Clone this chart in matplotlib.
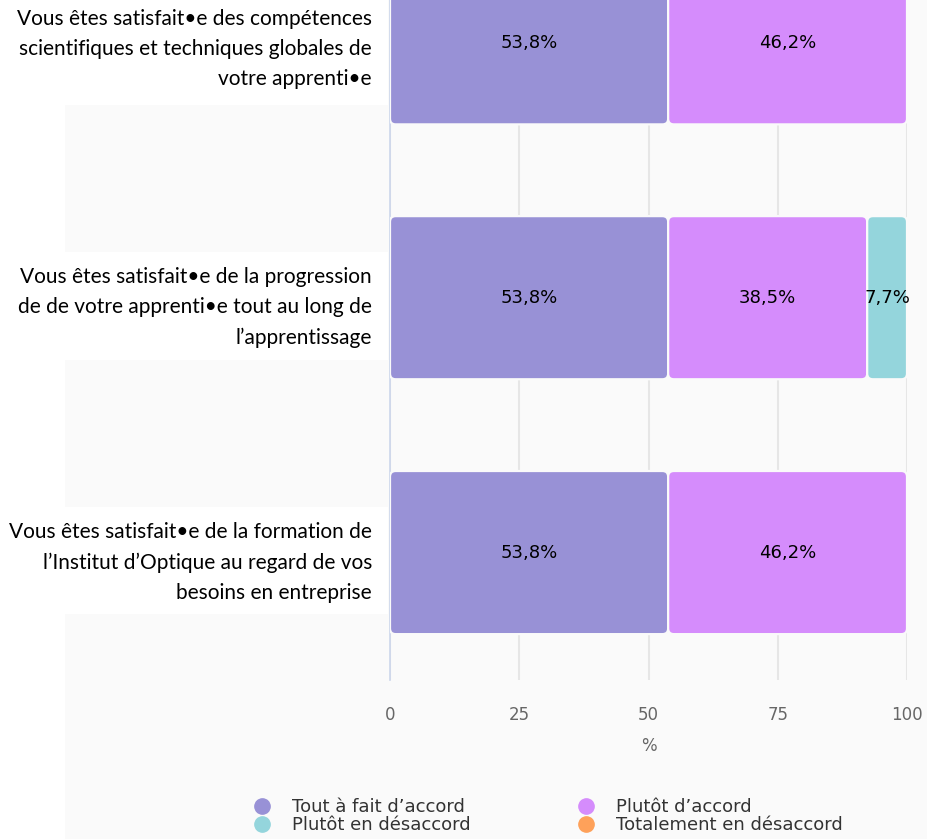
import numpy as np
import matplotlib
matplotlib.use("Agg")
import matplotlib.pyplot as plt
from matplotlib.patches import FancyBboxPatch, Rectangle
from matplotlib.lines import Line2D
import matplotlib.transforms as mtransforms

plt.rcParams["font.family"] = "DejaVu Sans"

# data (top to bottom as in the chart)
questions = [
    "Vous êtes satisfait•e des compétences\nscientifiques et techniques globales de\nvotre apprenti•e",
    "Vous êtes satisfait•e de la progression\nde de votre apprenti•e tout au long de\nl’apprentissage",
    "Vous êtes satisfait•e de la formation de\nl’Institut d’Optique au regard de vos\nbesoins en entreprise",
]
series_names = ["Tout à fait d’accord", "Plutôt d’accord",
                "Plutôt en désaccord", "Totalement en désaccord"]
tout_accord = [53.8, 53.8, 53.8]
plutot_accord = [46.2, 38.5, 46.2]
plutot_desaccord = [0.0, 7.7, 0.0]
total_desaccord = [0.0, 0.0, 0.0]
colors = ["#9891d6", "#d58cfc", "#94d5dc", "#fea15a"]
xticks = [0, 25, 50, 75, 100]

values = [tout_accord, plutot_accord, plutot_desaccord, total_desaccord]
bg = "#fafafa"

fig = plt.figure(figsize=(9.28, 8.39), dpi=100, facecolor="white")
# light panel behind the plot (left strip stays white)
fig.patches.append(Rectangle((65 / 928, 0), 1, 1, transform=fig.transFigure,
                             facecolor=bg, edgecolor="none", zorder=-10))

ax = fig.add_axes([390 / 928, 1 - 680 / 839, 517 / 928, 680 / 839])
ax.set_facecolor("none")

ypos = np.arange(len(questions))[::-1]  # first question on top
height = 0.64
ax.set_xlim(0, 100)
ax.set_ylim(-0.5, 2.168)

# px per unit for rounding
aspect = (517 / 100) / 255.5
left = np.zeros(len(questions))
for name, vals, col in zip(series_names, values, colors):
    vals = np.array(vals)
    bars = ax.barh(ypos, vals, height=height, left=left, color=col, alpha=0)
    for b, v in zip(bars, vals):
        if v <= 0:
            continue
        x0, y0, w, h = b.get_x(), b.get_y(), b.get_width(), b.get_height()
        p = FancyBboxPatch((x0, y0), w, h,
                           boxstyle="round,pad=0,rounding_size=1.1",
                           mutation_aspect=aspect, facecolor=col,
                           edgecolor=bg, linewidth=1.6, zorder=3)
        ax.add_patch(p)
        ax.text(x0 + w / 2, y0 + h / 2, f"{v:.1f}%".replace(".", ","),
                ha="center", va="center", fontsize=13, color="black", zorder=4)
    left = left + vals

ax.set_xticks(xticks)
ax.set_xticklabels([str(t) for t in xticks])
ax.tick_params(axis="x", length=0, pad=19, labelsize=12, labelcolor="#666666")
ax.set_yticks([])
ax.grid(axis="x", color="#e6e6e6", linewidth=1.5)
ax.set_axisbelow(True)
for s in ["top", "right", "bottom"]:
    ax.spines[s].set_visible(False)
ax.spines["left"].set_color("#ccd6eb")
ax.spines["left"].set_linewidth(1.2)
ax.set_xlabel("%", fontsize=12, color="#666666", labelpad=9)

# category labels with white boxes
trans = mtransforms.blended_transform_factory(fig.transFigure, ax.transData)
px_y = 1 / 255.5
for i, (y, q) in enumerate(zip(ypos, questions)):
    yc = y - 8 * px_y
    fig.patches.append(Rectangle((0, yc - 54 * px_y), 388 / 928, 108 * px_y,
                                 transform=trans, facecolor="white",
                                 edgecolor="none", zorder=-5))
    shift = 2 if i == 0 else -2
    fig.text(372 / 928, yc + shift * px_y, q, transform=trans, ha="right",
             va="center", multialignment="right", fontsize=15, family="Lato",
             linespacing=1.62, color="black")

handles = [Line2D([], [], marker="o", linestyle="", markersize=11,
                  markerfacecolor=c, markeredgecolor=c) for c in colors]
order = [0, 2, 1, 3]
fig.legend([handles[i] for i in order], [series_names[i] for i in order],
           ncol=2, loc="center", bbox_to_anchor=(543 / 928, 1 - 816 / 839),
           frameon=False, fontsize=13, labelcolor="#333333",
           handlelength=2.0, handletextpad=0.65, columnspacing=5.4,
           labelspacing=0.0, borderpad=0)

fig.savefig("out.png", dpi=100, facecolor=fig.get_facecolor())
